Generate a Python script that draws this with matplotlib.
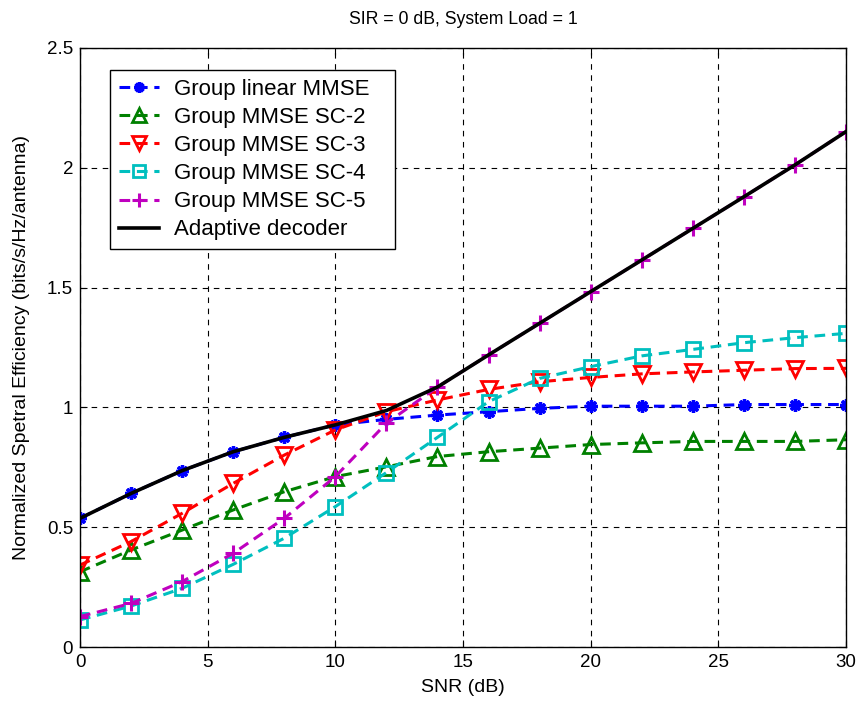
import matplotlib.pyplot as plt

plt.rcParams['font.family'] = ['Liberation Sans', 'DejaVu Sans']

# SNR sweep (dB)
snr = [0, 2, 4, 6, 8, 10, 12, 14, 16, 18, 20, 22, 24, 26, 28, 30]

# normalized spectral efficiency per scheme
linear_mmse = [0.537, 0.641, 0.736, 0.815, 0.875, 0.927, 0.950, 0.968,
               0.982, 0.996, 1.005, 1.005, 1.005, 1.012, 1.012, 1.012]
sc2 = [0.314, 0.405, 0.488, 0.572, 0.648, 0.711, 0.752, 0.795,
       0.815, 0.830, 0.845, 0.852, 0.858, 0.858, 0.858, 0.865]
sc3 = [0.342, 0.440, 0.558, 0.683, 0.801, 0.906, 0.982, 1.031,
       1.075, 1.107, 1.125, 1.140, 1.148, 1.155, 1.162, 1.163]
sc4 = [0.113, 0.171, 0.245, 0.345, 0.454, 0.586, 0.728, 0.875,
       1.024, 1.121, 1.170, 1.215, 1.242, 1.270, 1.291, 1.309]
sc5 = [0.127, 0.182, 0.273, 0.391, 0.537, 0.711, 0.934, 1.085,
       1.219, 1.351, 1.483, 1.615, 1.747, 1.879, 2.012, 2.151]
adaptive = [0.537, 0.641, 0.736, 0.815, 0.875, 0.927, 0.987, 1.085,
            1.219, 1.351, 1.483, 1.615, 1.747, 1.879, 2.012, 2.151]

fig = plt.figure(figsize=(8.63, 7.15), dpi=100)
ax = fig.add_axes([80 / 863, 68 / 715, 766 / 863, 599 / 715])

dash = (0, (3.5, 2.2))
ax.plot(snr, linear_mmse, color='#0000ff', linestyle=dash, lw=2.2,
        marker=(8, 2, 0), ms=9, mew=2.4, label='Group linear MMSE')
ax.plot(snr, sc2, color='#008000', linestyle=dash, lw=2.2,
        marker='^', ms=12, mew=2, mfc='none', label='Group MMSE SC-2')
ax.plot(snr, sc3, color='#ff0000', linestyle=dash, lw=2.2,
        marker='v', ms=12, mew=2, mfc='none', label='Group MMSE SC-3')
ax.plot(snr, sc4, color='#00bfbf', linestyle=dash, lw=2.2,
        marker='s', ms=10, mew=2, mfc='none', label='Group MMSE SC-4')
ax.plot(snr, sc5, color='#bf00bf', linestyle=dash, lw=2.2,
        marker='+', ms=12, mew=2.2, label='Group MMSE SC-5')
ax.plot(snr, adaptive, color='black', lw=2.6, label='Adaptive decoder')

ax.set_xlim(0, 30)
ax.set_ylim(0, 2.5)
ax.set_xticks([0, 5, 10, 15, 20, 25, 30])
ax.set_yticks([0, 0.5, 1, 1.5, 2, 2.5])
ax.set_yticklabels(['0', '0.5', '1', '1.5', '2', '2.5'])
ax.grid(True, color='black', linestyle=(0, (5, 5)), lw=0.8)
ax.tick_params(direction='in', length=5, top=True, right=True,
               labelsize=13.5, pad=5)
for s in ax.spines.values():
    s.set_linewidth(1.0)

ax.set_title('SIR = 0 dB, System Load = 1', fontsize=12.7, pad=17)
ax.set_xlabel('SNR (dB)', fontsize=14, labelpad=6)
ax.set_ylabel('Normalized Spetral Efficiency (bits/s/Hz/antenna)',
              fontsize=14, labelpad=12)

# legend box stretched to a fixed width in the upper left corner
leg = ax.legend(loc='upper left', mode='expand',
                bbox_to_anchor=(30 / 766, 0, 285 / 766, 577 / 599),
                borderaxespad=0, fontsize=16, handlelength=1.8,
                handletextpad=0.7, labelspacing=0.32, borderpad=0.4,
                markerscale=0.85, fancybox=False, framealpha=1,
                edgecolor='black')
leg.get_frame().set_linewidth(1.0)

fig.savefig('out.png', dpi=100)
plt.close(fig)
